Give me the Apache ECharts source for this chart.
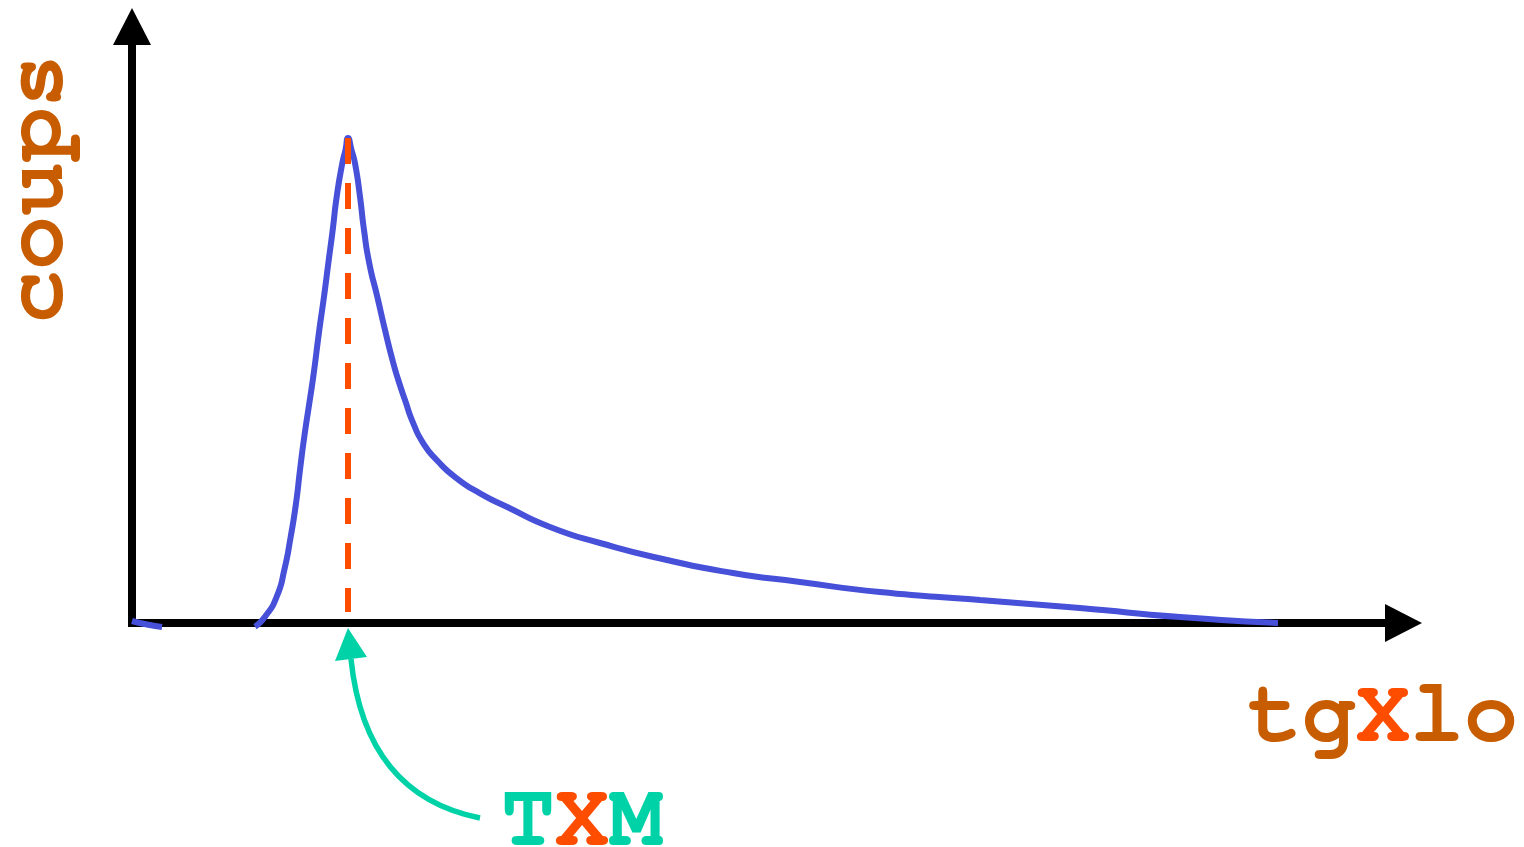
<!DOCTYPE html>
<html><head><meta charset="utf-8">
<script src="https://cdn.jsdelivr.net/npm/echarts@6/dist/echarts.min.js"></script>
<style>html,body{margin:0;padding:0;background:#fff}#c{width:1524px;height:847px}</style>
</head><body><div id="c"></div>
<script>
// ---- data (arbitrary units) ----
const xAxisName = ['tg', 'X', 'lo'];
const yAxisName = 'coups';
const peakLabel = ['T', 'X', 'M'];
const tailX = [0, 15, 30];
const tailY = [2, -1.5, -4];
const curveX = [123, 133, 144.7, 152.3, 158.7, 164, 168, 172.3, 177.3, 181.5, 187.3, 192, 196.3, 200.7, 204.7, 210.3, 213.5, 216, 219.5, 223, 228, 232, 237.3, 245.3, 253, 261, 266.3, 273, 281.3, 291.3, 304.7, 324.7, 348, 374.7, 418, 468, 535, 601, 668, 748, 848, 948, 1048, 1146];
const curveY = [-3.7, 6.3, 26.3, 53, 86.3, 119.7, 153, 186.3, 219.7, 248, 293, 326.3, 359.7, 393, 426.3, 459.7, 473, 485, 473, 459.7, 426.3, 393, 359.7, 326.3, 293, 261, 243, 223, 199.7, 179.7, 163, 144.7, 129.7, 116.3, 96, 80, 63, 50, 41, 31, 23, 15, 6, 0];
const peakX = 216, peakY = 485, dashEndY = 11;
const xMax = 1271.5, yMax = 596.5;

const BROWN = '#C85C00', RED = '#FF4D00', GREEN = '#00D2A8', BLUE = '#4650D9';
const FONT = "'Nimbus Mono PS', 'FreeMono', 'Courier New', 'Liberation Mono', monospace";
const F = 'bold 90px ' + FONT;

const data = tailX.map((x, i) => [x, tailY[i]])
  .concat([[ (tailX[tailX.length-1] + curveX[0]) / 2, '-' ]])
  .concat(curveX.map((x, i) => [x, curveY[i]]));

const chart = echarts.init(document.getElementById('c'));
const axisLine = {
  show: true, symbol: ['none', 'triangle'], symbolSize: [38, 37],
  lineStyle: { color: '#000', width: 8, cap: 'square' }
};
chart.setOption({
  animation: false,
  grid: { left: 132, right: 120.5, top: 26.5, bottom: 224 },
  xAxis: { type: 'value', min: 0, max: xMax, axisLine: axisLine, axisTick: {show: false}, axisLabel: {show: false}, splitLine: {show: false} },
  yAxis: { type: 'value', min: 0, max: yMax, axisLine: axisLine, axisTick: {show: false}, axisLabel: {show: false}, splitLine: {show: false} },
  series: [{
    type: 'line', data: data, smooth: 0.6, showSymbol: false, clip: false, connectNulls: false,
    lineStyle: { color: BLUE, width: 6 },
    markLine: {
      silent: true, symbol: ['none', 'none'], label: {show: false},
      lineStyle: { color: RED, width: 6, type: [26, 19] },
      data: [[{ coord: [peakX, peakY] }, { coord: [peakX, dashEndY] }]]
    }
  }]
});

const tip = chart.convertToPixel({gridIndex: 0}, [peakX, 0]);
const tx = tip[0], ty = tip[1];
chart.setOption({
  graphic: [
    { type: 'text', x: 35, y: 189, rotation: Math.PI / 2,
      style: { text: yAxisName, font: F, fill: BROWN, align: 'center', verticalAlign: 'middle' } },
    { type: 'text', x: 1248, y: 714,
      style: { text: '{a|' + xAxisName[0] + '}{b|' + xAxisName[1] + '}{a|' + xAxisName[2] + '}',
        font: F, align: 'left', verticalAlign: 'middle',
        rich: { a: { fill: BROWN, font: F }, b: { fill: RED, font: F } } } },
    { type: 'text', x: 501, y: 818,
      style: { text: '{a|' + peakLabel[0] + '}{b|' + peakLabel[1] + '}{a|' + peakLabel[2] + '}',
        font: F, align: 'left', verticalAlign: 'middle',
        rich: { a: { fill: GREEN, font: F }, b: { fill: RED, font: F } } } },
    { type: 'bezierCurve',
      shape: { x1: tx + 132, y1: ty + 195, cpx1: tx + 17, cpy1: ty + 172, x2: tx + 3, y2: ty + 36 },
      style: { stroke: GREEN, lineWidth: 5.5, fill: null } },
    { type: 'polygon',
      shape: { points: [[tx, ty + 5], [tx - 13, ty + 38], [tx + 19, ty + 34]] },
      style: { fill: GREEN } }
  ]
});
</script></body></html>
